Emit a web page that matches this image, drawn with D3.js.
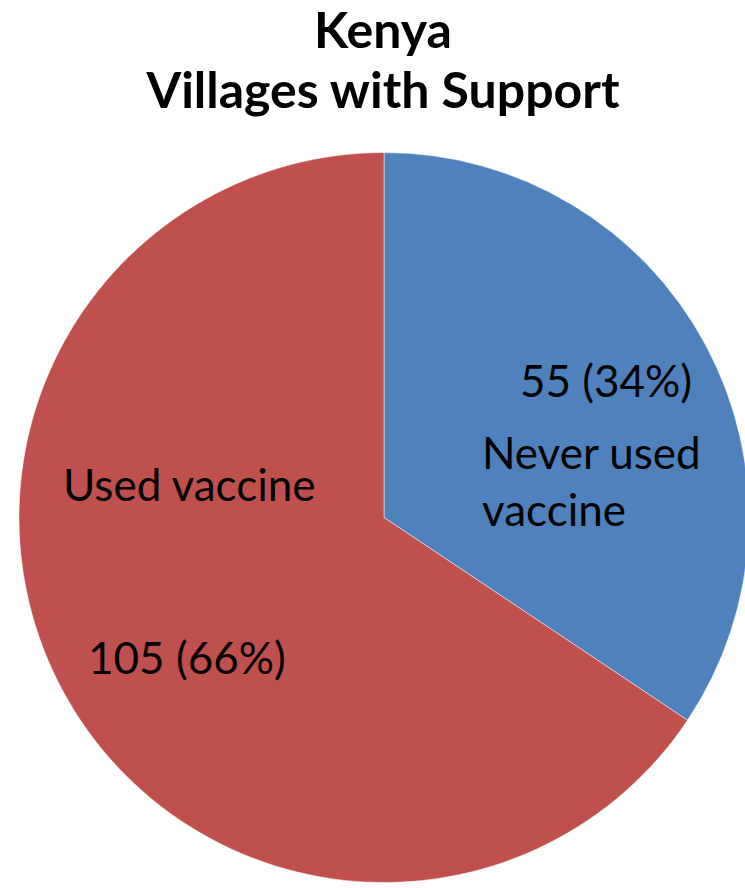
<!DOCTYPE html>
<html>
  <head>
    <meta charset="utf-8" />
    <title>Kenya Villages with Support</title>
    <script src="https://d3js.org/d3.v7.min.js"></script>
    <style>
      body {
        margin: 0;
        background: #fff;
      }
      text {
        font-family: Lato, "Open Sans", sans-serif;
        fill: #000;
      }
    </style>
  </head>
  <body>
    <svg id="pie"></svg>

    <script>
      // data
      var categories = ["Never used vaccine", "Used vaccine"];
      var values = [55, 105];
      var percents = ["34%", "66%"];
      var titleLines = ["Kenya", "Villages with Support"];

      var width = 745;
      var height = 888;
      var cx = 384, cy = 517.5, radius = 365;
      var colors = ["#4F81BD", "#C0504D"];

      var svg = d3.select("#pie")
        .attr("width", width)
        .attr("height", height);

      // title
      svg.append("text")
        .attr("x", 383)
        .attr("text-anchor", "middle")
        .attr("font-weight", "bold")
        .attr("font-size", 50)
        .selectAll("tspan")
        .data(titleLines)
        .enter().append("tspan")
        .attr("x", 383)
        .attr("y", function(d, i) { return 48 + i * 60; })
        .text(function(d) { return d; });

      var pie = d3.pie().sort(null).value(function(d) { return d; });
      var arc = d3.arc().innerRadius(0).outerRadius(radius);
      var arcs = pie(values);

      var g = svg.append("g").attr("transform", "translate(" + cx + "," + cy + ")");

      g.selectAll("path")
        .data(arcs)
        .enter().append("path")
        .attr("d", arc)
        .attr("fill", function(d, i) { return colors[i]; })
        .attr("stroke", "rgba(255,255,255,0.5)")
        .attr("stroke-width", 1);

      // labels, offsets from each slice's centroid
      var labelFont = 44;

      // blue slice: value on top, name below in two lines
      var c0 = arc.centroid(arcs[0]);
      g.append("text")
        .attr("x", c0[0] + 61).attr("y", c0[1] - 34)
        .attr("text-anchor", "middle")
        .attr("font-size", labelFont)
        .text(values[0] + " (" + percents[0] + ")");
      var nameLines = ["Never used", "vaccine"];
      g.append("text")
        .attr("font-size", labelFont)
        .selectAll("tspan")
        .data(nameLines)
        .enter().append("tspan")
        .attr("x", c0[0] - 63)
        .attr("y", function(d, i) { return c0[1] + 38 + i * 57; })
        .text(function(d) { return d; });

      // red slice: name on top, value below
      var c1 = arc.centroid(arcs[1]);
      g.append("text")
        .attr("x", c1[0] - 160).attr("y", c1[1] - 103)
        .attr("font-size", labelFont)
        .text(categories[1]);
      g.append("text")
        .attr("x", c1[0] - 135).attr("y", c1[1] + 70)
        .attr("font-size", labelFont)
        .text(values[1] + " (" + percents[1] + ")");
    </script>
  </body>
</html>
